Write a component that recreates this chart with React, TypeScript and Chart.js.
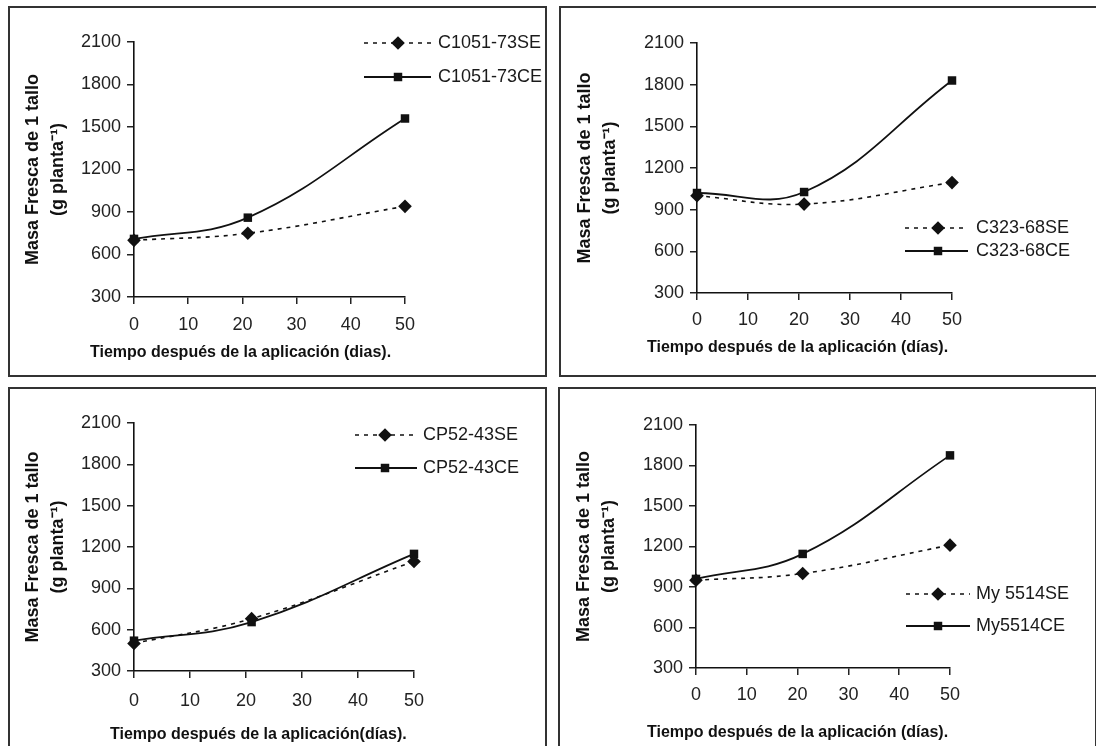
import React, { useEffect, useRef } from "react";
import { Chart, registerables } from "chart.js";

Chart.register(...registerables);

// ---- data ----
const days = [0, 21, 50];
const xTickValues = [0, 10, 20, 30, 40, 50];
const yTickValues = [300, 600, 900, 1200, 1500, 1800, 2100];

const c1051SE = [700, 750, 940];
const c1051CE = [710, 860, 1560];
const c323SE = [1000, 940, 1095];
const c323CE = [1020, 1027, 1830];
const cp52SE = [500, 680, 1095];
const cp52CE = [520, 655, 1150];
const my5514SE = [950, 1000, 1210];
const my5514CE = [960, 1145, 1875];

const seLabels = ["C1051-73SE", "C323-68SE", "CP52-43SE", "My 5514SE"];
const ceLabels = ["C1051-73CE", "C323-68CE", "CP52-43CE", "My5514CE"];
const seValues = [c1051SE, c323SE, cp52SE, my5514SE];
const ceValues = [c1051CE, c323CE, cp52CE, my5514CE];

const yTitle = ["Masa Fresca de 1 tallo", "(g planta\u207B\u00B9)"];
const xTitles = [
  "Tiempo después de la aplicación (dias).",
  "Tiempo después de la aplicación (días).",
  "Tiempo después de la aplicación(días).",
  "Tiempo después de la aplicación (días).",
];

// ---- layout / style ----
const FONT = "'Liberation Sans', Arial, sans-serif";
const CW = 535;
const CH = 367;
const X_H = 40;

const panels = [
  { left: 8, top: 6, area: { l: 124, r: 395, t: 34, b: 289 }, yPad: 10.4, xPad: 10, xt: { x: 80, y: 345 }, lg: { x1: 354, x2: 421, mx: 388, tx: 428, rows: [35, 69] } },
  { left: 559, top: 6, area: { l: 136, r: 391, t: 35, b: 285 }, yPad: 11.4, xPad: 9, xt: { x: 86, y: 340 }, lg: { x1: 344, x2: 407, mx: 377, tx: 415, rows: [220, 243] } },
  { left: 8, top: 387, area: { l: 124, r: 404, t: 34, b: 282 }, yPad: 10.4, xPad: 12, xt: { x: 100, y: 346 }, lg: { x1: 345, x2: 407, mx: 375, tx: 413, rows: [46, 79] } },
  { left: 558, top: 387, area: { l: 136, r: 390, t: 36, b: 279 }, yPad: 11.4, xPad: 9, xt: { x: 87, y: 344 }, lg: { x1: 346, x2: 410, mx: 378, tx: 416, rows: [205, 237] } },
];

function drawMarker(ctx: CanvasRenderingContext2D, style: string, r: number, x: number, y: number, color: string) {
  ctx.save();
  ctx.fillStyle = color;
  ctx.beginPath();
  if (style === "rectRot") {
    ctx.moveTo(x, y - r);
    ctx.lineTo(x + r, y);
    ctx.lineTo(x, y + r);
    ctx.lineTo(x - r, y);
    ctx.closePath();
  } else {
    const s = r * Math.SQRT1_2;
    ctx.rect(x - s, y - s, 2 * s, 2 * s);
  }
  ctx.fill();
  ctx.restore();
}

const annotPlugin = {
  id: "annot",
  afterDraw(chart: any, _args: any, opts: any) {
    const ctx: CanvasRenderingContext2D = chart.ctx;
    const lg = opts.lg;
    chart.data.datasets.forEach((ds: any, i: number) => {
      const y = lg.rows[i];
      ctx.save();
      ctx.strokeStyle = ds.borderColor;
      ctx.lineWidth = ds.borderWidth;
      ctx.setLineDash(ds.borderDash || []);
      ctx.beginPath();
      ctx.moveTo(lg.x1, y);
      ctx.lineTo(lg.x2, y);
      ctx.stroke();
      ctx.setLineDash([]);
      ctx.restore();
      drawMarker(ctx, ds.pointStyle, ds.pointRadius, lg.mx, y, ds.pointBackgroundColor);
      ctx.save();
      ctx.fillStyle = "#1a1a1a";
      ctx.font = `18px ${FONT}`;
      ctx.textAlign = "left";
      ctx.textBaseline = "middle";
      ctx.fillText(ds.label, lg.tx, y);
      ctx.restore();
    });
    ctx.save();
    ctx.fillStyle = "#111";
    ctx.font = `bold 16px ${FONT}`;
    ctx.textAlign = "left";
    ctx.textBaseline = "middle";
    ctx.fillText(opts.xTitle, opts.xt.x, opts.xt.y);
    ctx.restore();
  },
};

function Panel({ idx }: { idx: number }) {
  const ref = useRef<HTMLCanvasElement>(null);
  const p = panels[idx];
  useEffect(() => {
    if (!ref.current) return;
    const a = p.area;
    const chart = new Chart(ref.current, {
      type: "line",
      data: {
        datasets: [
          {
            label: seLabels[idx],
            data: days.map((d, i) => ({ x: d, y: seValues[idx][i] })),
            borderColor: "#111",
            borderWidth: 1.6,
            borderDash: [4, 5],
            pointStyle: "rectRot",
            pointRadius: 6.8,
            pointHoverRadius: 6.8,
            pointBackgroundColor: "#111",
            pointBorderColor: "#111",
            pointBorderWidth: 0,
            tension: 0.4,
            fill: false,
            clip: false,
          } as any,
          {
            label: ceLabels[idx],
            data: days.map((d, i) => ({ x: d, y: ceValues[idx][i] })),
            borderColor: "#111",
            borderWidth: 1.8,
            pointStyle: "rect",
            pointRadius: 6,
            pointHoverRadius: 6,
            pointBackgroundColor: "#111",
            pointBorderColor: "#111",
            pointBorderWidth: 0,
            tension: 0.4,
            fill: false,
            clip: false,
          } as any,
        ],
      },
      options: {
        animation: false,
        responsive: false,
        events: [],
        layout: { padding: { left: 0, top: a.t, right: CW - a.r, bottom: CH - a.b - X_H } },
        plugins: {
          legend: { display: false },
          tooltip: { enabled: false },
          annot: { lg: p.lg, xt: p.xt, xTitle: xTitles[idx] },
        } as any,
        scales: {
          x: {
            type: "linear",
            min: xTickValues[0],
            max: xTickValues[xTickValues.length - 1],
            afterFit: (s: any) => { s.height = X_H; },
            afterBuildTicks: (s: any) => { s.ticks = xTickValues.map((v) => ({ value: v })); },
            ticks: { autoSkip: false, maxRotation: 0, padding: p.xPad, color: "#222", font: { family: FONT, size: 18 }, callback: (v: any) => String(v) },
            grid: { drawOnChartArea: false, drawTicks: true, tickLength: 7, color: "#222", lineWidth: 1.5 },
            border: { display: true, color: "#111", width: 1.6 },
          },
          y: {
            type: "linear",
            min: yTickValues[0],
            max: yTickValues[yTickValues.length - 1],
            afterFit: (s: any) => { s.width = a.l; },
            afterBuildTicks: (s: any) => { s.ticks = yTickValues.map((v) => ({ value: v })); },
            ticks: { autoSkip: false, padding: 6, color: "#222", font: { family: FONT, size: 18 }, callback: (v: any) => String(v) },
            grid: { drawOnChartArea: false, drawTicks: true, tickLength: 7, color: "#222", lineWidth: 1.5 },
            border: { display: true, color: "#111", width: 1.6 },
            title: {
              display: true,
              text: yTitle,
              color: "#111",
              font: { family: FONT, size: 18, weight: "bold", lineHeight: 1.4 },
              padding: { top: p.yPad, bottom: 0 },
            },
          },
        },
      } as any,
      plugins: [annotPlugin as any],
    });
    return () => chart.destroy();
  }, [idx]);
  return (
    <div
      style={{
        position: "absolute",
        left: p.left,
        top: p.top,
        width: CW + 4,
        height: CH + 4,
        border: "2px solid #333",
        boxSizing: "border-box",
        background: "#fff",
        overflow: "hidden",
      }}
    >
      <canvas ref={ref} width={CW} height={CH} style={{ display: "block", width: CW, height: CH }} />
    </div>
  );
}

export default function App() {
  return (
    <div style={{ position: "fixed", left: 0, top: 0, width: 1096, height: 746, overflow: "hidden", background: "#fff" }}>
      {panels.map((_, i) => (
        <Panel key={i} idx={i} />
      ))}
    </div>
  );
}
